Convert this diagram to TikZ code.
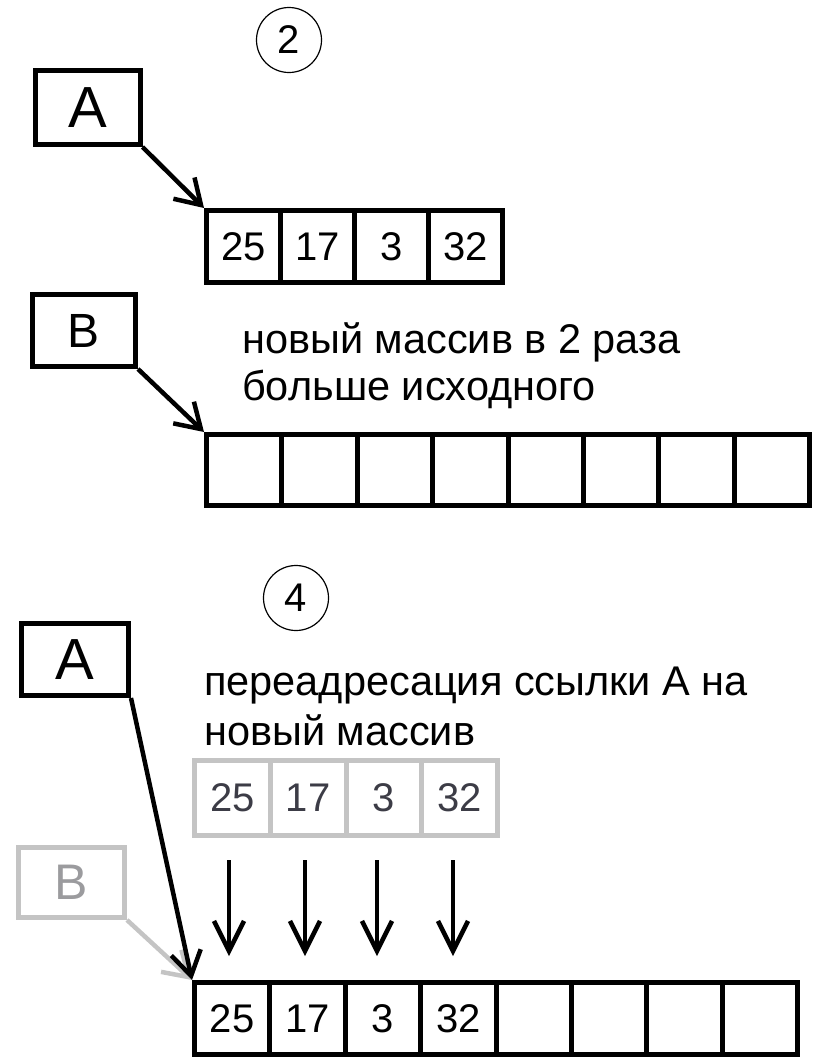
\documentclass[tikz,border=0pt]{standalone}
\usepackage{fontspec}
\setmainfont{Liberation Sans}
\usetikzlibrary{arrows.meta}
\definecolor{lgray}{HTML}{C4C4C4}
\definecolor{dgray}{HTML}{3C3C46}
\begin{document}
\begin{tikzpicture}[x=1pt,y=-1pt,
  refbox/.style={draw, line width=5pt, inner sep=0pt, minimum width=105pt, minimum height=74pt, font=\fontsize{58}{60}\selectfont},
  cell/.style={draw, line width=5pt, inner sep=0pt, minimum width=#1, minimum height=72pt, font=\fontsize{40}{42}\selectfont},
  gcell/.style={cell=#1, draw=lgray, text=dgray},
  num/.style={draw, line width=1.2pt, circle, minimum size=65pt, inner sep=0pt, font=\fontsize{40}{42}\selectfont},
  note/.style={anchor=base west, inner sep=0pt, font=\fontsize{41.5}{48}\selectfont},
  ptr/.style={line width=4.5pt, -{Straight Barb[length=24pt,width=30pt,line width=4.5pt]}},
  dnarr/.style={line width=4.5pt, -{Straight Barb[length=30pt,width=30pt,line width=4.5pt]}},
  gptr/.style={line width=4.5pt, draw=lgray, -{Straight Barb[length=24pt,width=30pt,line width=4.5pt]}}
]
\useasboundingbox (0,0) rectangle (821,1058);
% ---------- step 2 ----------
\node[num] (c2) at (289,40) {2};
\node[refbox] (A1) at (87.5,107.5) {A};
\foreach \v [count=\i] in {25,17,3,32}{
  \node[cell=74pt] (a\i) at (206.5+74*\i-37,246.5) {\v};
}
\draw[ptr] (A1.south east) -- (a1.north west);
\node[refbox, minimum width=103pt, minimum height=72pt, font=\fontsize{48}{50}\selectfont] (B1) at (84,330.5) {B};
\node[note] (t1) at (242,353) {новый массив в 2 раза};
\node[note] (t2) at (242,400) {больше исходного};
\foreach \i in {1,...,8}{
  \node[cell=75.4pt, minimum height=71pt] (b\i) at (206.5+75.4*\i-37.7,470) {};
}
\draw[ptr] (B1.south east) -- (b1.north west);
% ---------- step 4 ----------
\node[num] (c4) at (296,598) {4};
\node[refbox, minimum width=107pt, minimum height=72pt] (A2) at (75,659.5) {A};
\node[note] (t3) at (204,695) {переадресация ссылки А на};
\node[note] (t4) at (204,745) {новый массив};
\foreach \v [count=\i] in {25,17,3,32}{
  \node[gcell=75.75pt, minimum height=75pt] (g\i) at (194.5+75.75*\i-37.875,798) {\v};
}
\node[refbox, draw=lgray, text=lgray!70!dgray, minimum width=106pt, minimum height=70pt, font=\fontsize{50}{52}\selectfont] (B2) at (71.5,882.5) {B};
\foreach \v [count=\i] in {25,17,3,32,{},{},{},{}}{
  \node[cell=75.375pt] (n\i) at (194.5+75.375*\i-37.6875,1018.5) {\v};
}
\coordinate (s1) at (229,860); \coordinate (e1) at (229,956);
\coordinate (s2) at (305,860); \coordinate (e2) at (305,956);
\coordinate (s3) at (377,860); \coordinate (e3) at (377,956);
\coordinate (s4) at (453,860); \coordinate (e4) at (453,956);
\foreach \i in {1,...,4}{ \draw[dnarr] (s\i) -- (e\i); }
\draw[gptr] (B2.south east) -- (n1.north west);
\draw[ptr] (A2.south east) -- (n1.north west);
\end{tikzpicture}
\end{document}
